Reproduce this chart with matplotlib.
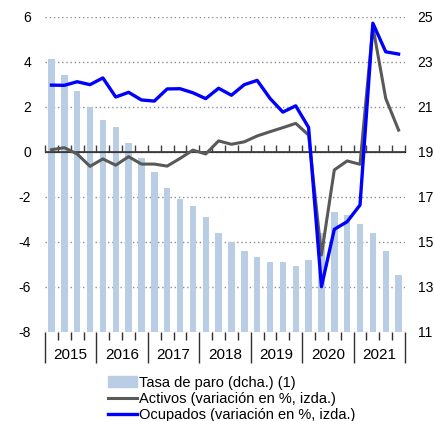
import matplotlib
matplotlib.use("Agg")
import matplotlib.pyplot as plt
import matplotlib.patches as mpatches
from matplotlib.lines import Line2D
import numpy as np

plt.rcParams['font.family'] = ['Liberation Sans', 'DejaVu Sans']
plt.rcParams['axes.unicode_minus'] = False

# Quarterly data, 2015 Q1 - 2021 Q4
years = ['2015', '2016', '2017', '2018', '2019', '2020', '2021']
paro = [23.1, 22.4, 21.7, 21.0, 20.4, 20.1, 19.4, 18.7,
        18.1, 17.4, 16.9, 16.6, 16.1, 15.4, 15.0, 14.6,
        14.3, 14.1, 14.1, 13.9, 14.2, 15.4, 16.3, 16.2,
        15.8, 15.4, 14.6, 13.5]
activos = [0.09, 0.18, -0.10, -0.65, -0.32, -0.60, -0.22, -0.55,
           -0.55, -0.64, -0.30, 0.07, -0.10, 0.48, 0.33, 0.44,
           0.70, 0.89, 1.07, 1.26, 0.74, -4.59, -0.81, -0.41,
           -0.56, 5.56, 2.37, 0.96]
ocupados = [2.96, 2.95, 3.11, 2.98, 3.28, 2.43, 2.64, 2.30,
            2.25, 2.79, 2.80, 2.62, 2.36, 2.82, 2.51, 2.98,
            3.17, 2.37, 1.76, 2.04, 1.08, -6.00, -3.45, -3.11,
            -2.37, 5.71, 4.44, 4.34]

x = np.arange(len(paro))
q_bounds = np.arange(len(paro) + 1) - 0.5
y_bounds = q_bounds[::4]
y_centers = y_bounds[:-1] + 2

fig = plt.figure(figsize=(4.34, 4.21), dpi=100)
ax = fig.add_axes([0.1037, 0.2121, 0.8295, 0.7482])
ax2 = ax.twinx()

# bars on the right axis, behind
ax2.bar(x, np.array(paro) - 11, 0.5, bottom=11, color='#b9cde5', zorder=2)
ax2.set_ylim(11, 25)
ax2.set_yticks(np.arange(11, 26, 2))
ax2.grid(axis='y', color='#8c8c8c', linestyle=(0, (1, 2)), linewidth=1, zorder=0)
ax2.set_axisbelow(True)

# lines on the left axis, in front
ax.set_zorder(ax2.get_zorder() + 1)
ax.patch.set_visible(False)
ax.axhline(0, color='#404040', linewidth=1.3, zorder=3)
ax.plot(x, activos, color='#595959', linewidth=2.2, zorder=4)
ax.plot(x, ocupados, color='#0000ff', linewidth=2.4, zorder=5)
ax.set_ylim(-8, 6)
ax.set_yticks(np.arange(-8, 7, 2))
ax.set_xlim(-0.5, len(paro) - 0.5)

for a in (ax, ax2):
    for s in a.spines.values():
        s.set_visible(False)
ax.tick_params(axis='y', length=0, pad=10, labelsize=10)
ax2.tick_params(axis='y', length=0, pad=9, labelsize=10)

# bottom ticks: year separators and quarter ticks
ax.set_xticks(y_bounds)
ax.set_xticklabels([''] * len(y_bounds))
ax.set_xticks(q_bounds, minor=True)
ax.tick_params(axis='x', which='major', length=22, width=1, color='#303030')
ax.tick_params(axis='x', which='minor', length=6, width=1, color='#303030')

# year labels
sec = ax.secondary_xaxis(0)
sec.set_xticks(y_centers)
sec.set_xticklabels(years)
sec.tick_params(length=0, pad=12, labelsize=11)
sec.spines['bottom'].set_visible(False)

# quarter ticks on the zero line
zero = ax.secondary_xaxis(8 / 14)
zero.set_xticks(q_bounds)
zero.set_xticklabels([])
zero.tick_params(length=5, width=1, color='#404040')
zero.spines['bottom'].set_visible(False)

handles = [mpatches.Patch(color='#b9cde5'),
           Line2D([], [], color='#595959', linewidth=2.2),
           Line2D([], [], color='#0000ff', linewidth=2.4)]
labels = ['Tasa de paro (dcha.) (1)',
          'Activos (variación en %, izda.)',
          'Ocupados (variación en %, izda.)']
fig.legend(handles, labels, loc='upper left', bbox_to_anchor=(0.249, 0.108),
           frameon=False, fontsize=10.5, borderpad=0, borderaxespad=0,
           handlelength=2.0, handletextpad=0.15, labelspacing=0.15)

fig.savefig('out.png', dpi=100)
